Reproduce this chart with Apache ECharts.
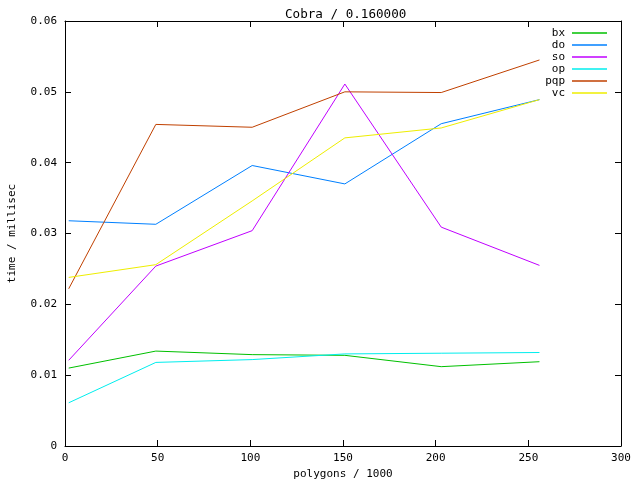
<!DOCTYPE html>
<html><head><meta charset="utf-8">
<script src="https://cdn.jsdelivr.net/npm/echarts@6/dist/echarts.min.js"></script>
<style>html,body{margin:0;padding:0;background:#fff}#c{width:640px;height:480px}</style>
</head><body><div id="c"></div>
<script>
const polygons = [2, 49, 101, 151, 203, 256];
const bx  = [0.0110, 0.0134, 0.0129, 0.0128, 0.0112, 0.0119];
const dO  = [0.0318, 0.0313, 0.0396, 0.0370, 0.0455, 0.0489];
const so  = [0.0121, 0.0254, 0.0304, 0.0511, 0.0309, 0.0255];
const op  = [0.0061, 0.0118, 0.0122, 0.0130, 0.0131, 0.0132];
const pqp = [0.0222, 0.0454, 0.0450, 0.0500, 0.0499, 0.0545];
const vc  = [0.0238, 0.0256, 0.0346, 0.0435, 0.0449, 0.0489];
const names = ['bx','do','so','op','pqp','vc'];
const values = [bx, dO, so, op, pqp, vc];
const colors = ['#00c000','#0080ff','#c000ff','#00eeee','#c04000','#eeee00'];
const xTicks = [0, 50, 100, 150, 200, 250, 300];
const yTicks = [0, 0.01, 0.02, 0.03, 0.04, 0.05, 0.06];

const font = 'DejaVu Sans Mono';
const chart = echarts.init(document.getElementById('c'), null, {renderer:'canvas'});
const axisCommon = {
  axisLine:{show:true, onZero:false, lineStyle:{color:'#000', width:1}},
  axisTick:{show:true, inside:true, length:6, lineStyle:{color:'#000', width:1}},
  splitLine:{show:false}
};
const series = names.map((n,i)=>({
  name:n, type:'line', symbol:'none', animation:false,
  data: polygons.map((x,j)=>[x, values[i][j]]),
  lineStyle:{color:colors[i], width:1}, itemStyle:{color:colors[i]}
}));
const legends = names.map((n,i)=>({
  data:[n], right: 33, top: 27.5 + i*12, itemWidth:35, itemHeight:1.5, itemGap:0,
  align:'right', icon:'rect', padding:0,
  textStyle:{fontFamily:font, fontSize:11, color:'#000', padding:[0,2,0,0]}
}));
chart.setOption({
  animation:false,
  backgroundColor:'#fff',
  title:{text:'Cobra / 0.160000', left:280, top:3, textStyle:{fontFamily:font, fontSize:12.6, fontWeight:'normal', color:'#000'}},
  legend: legends,
  grid:{left:65, right:19, top:21, bottom:34, containLabel:false, outerBoundsMode:'none'},
  xAxis:[
    Object.assign({type:'value', min:xTicks[0], max:xTicks[xTicks.length-1], interval:50, position:'bottom',
      name:'polygons / 1000', nameLocation:'middle', nameGap:22,
      nameTextStyle:{fontFamily:font, fontSize:11, color:'#000'},
      axisLabel:{fontFamily:font, fontSize:11, color:'#000', margin:7}}, axisCommon),
    Object.assign({type:'value', min:0, max:300, interval:50, position:'top', axisLabel:{show:false}}, axisCommon)
  ],
  yAxis:[
    Object.assign({type:'value', min:yTicks[0], max:yTicks[yTicks.length-1], interval:0.01, position:'left',
      name:'time / millisec', nameLocation:'middle', nameGap:47,
      nameTextStyle:{fontFamily:font, fontSize:11, color:'#000'},
      axisLabel:{fontFamily:font, fontSize:11, color:'#000', margin:8, formatter:v=>String(+v.toFixed(2))}}, axisCommon),
    Object.assign({type:'value', min:0, max:0.06, interval:0.01, position:'right', axisLabel:{show:false}}, axisCommon)
  ],
  series: series
});
</script></body></html>
